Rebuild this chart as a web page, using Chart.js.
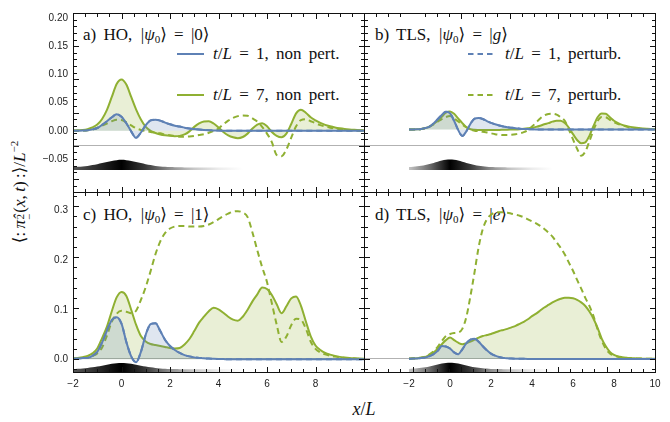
<!DOCTYPE html>
<html><head><meta charset="utf-8">
<script src="https://cdn.jsdelivr.net/npm/chart.js@4.4.0/dist/chart.umd.min.js"></script>
<style>
html,body{margin:0;padding:0;background:#fff;}
#wrap{position:relative;width:670px;height:422px;overflow:hidden;background:#fff;}
canvas{position:absolute;z-index:2;}
.t{position:absolute;z-index:1;font-family:"Liberation Serif","DejaVu Serif","Times New Roman",serif;font-size:17px;line-height:20px;color:#111;white-space:nowrap;word-spacing:3px;}
.t sub{font-size:11px;line-height:0;vertical-align:-3px;}
.t sup{font-size:11px;line-height:0;vertical-align:7px;}
.ss{display:inline-flex;flex-direction:column;font-size:11px;line-height:9px;vertical-align:1px;margin-right:1px;}
svg.smp{position:absolute;z-index:1;}
.fr{position:absolute;box-sizing:border-box;border:1px solid #111;z-index:3;pointer-events:none;}
.zl{position:absolute;height:1px;background:rgba(0,0,0,0.3);z-index:1;}
.tk{position:absolute;z-index:3;pointer-events:none;}
.tx {background:repeating-linear-gradient(to right,#111 0,#111 1px,transparent 1px,transparent 12.125px);}
.txM{background:repeating-linear-gradient(to right,#111 0,#111 1px,transparent 1px,transparent 48.5px);}
.tyA {background:repeating-linear-gradient(to bottom,#111 0,#111 1px,transparent 1px,transparent 6.642px);}
.tyAM{background:repeating-linear-gradient(to bottom,#111 0,#111 1px,transparent 1px,transparent 33.21px);}
.tyC {background:repeating-linear-gradient(to bottom,#111 0,#111 1px,transparent 1px,transparent 10.198px);}
.tyCM{background:repeating-linear-gradient(to bottom,#111 0,#111 1px,transparent 1px,transparent 50.99px);}
</style></head><body>
<div id="wrap">
  <div class="zl" style="left:73px;top:145px;width:292px"></div>
  <div class="zl" style="left:364px;top:145px;width:292px"></div>
  <div class="zl" style="left:73px;top:358px;width:292px"></div>
  <div class="zl" style="left:364px;top:358px;width:292px"></div>

  <div class="t" style="left:83px;top:25px">a) HO,&ensp;|<i>ψ</i><sub>0</sub>⟩ = |0⟩</div>
  <div class="t" style="left:375px;top:25px">b) TLS,&ensp;|<i>ψ</i><sub>0</sub>⟩ = |<i>g</i>⟩</div>
  <div class="t" style="left:83px;top:205px">c) HO,&ensp;|<i>ψ</i><sub>0</sub>⟩ = |1⟩</div>
  <div class="t" style="left:375px;top:205px">d) TLS,&ensp;|<i>ψ</i><sub>0</sub>⟩ = |<i>e</i>⟩</div>

  <svg class="smp" style="left:177px;top:50px" width="27" height="8"><line x1="0" y1="4" x2="27" y2="4" stroke="#5E81B5" stroke-width="2"/></svg>
  <div class="t" style="left:213px;top:44px"><i>t</i>/<i>L</i> = 1, non pert.</div>
  <svg class="smp" style="left:177px;top:91px" width="27" height="8"><line x1="0" y1="4" x2="27" y2="4" stroke="#8FB032" stroke-width="2"/></svg>
  <div class="t" style="left:213px;top:85px"><i>t</i>/<i>L</i> = 7, non pert.</div>

  <svg class="smp" style="left:468px;top:50px" width="27" height="8"><line x1="0" y1="4" x2="27" y2="4" stroke="#5E81B5" stroke-width="2" stroke-dasharray="5.5,4"/></svg>
  <div class="t" style="left:505px;top:44px"><i>t</i>/<i>L</i> = 1, perturb.</div>
  <svg class="smp" style="left:468px;top:91px" width="27" height="8"><line x1="0" y1="4" x2="27" y2="4" stroke="#8FB032" stroke-width="2" stroke-dasharray="5.5,4"/></svg>
  <div class="t" style="left:505px;top:85px"><i>t</i>/<i>L</i> = 7, perturb.</div>

  <div class="t" style="left:-100px;top:181px;width:240px;height:22px;line-height:22px;text-align:center;font-size:17px;word-spacing:0;transform:rotate(-90deg);">⟨:&thinsp;<i>π̂</i><span class="ss"><span>2</span><span>−</span></span>(<i>x</i>,&thinsp;<i>t</i>)&thinsp;:⟩/<i>L</i><sup>−2</sup></div>
  <div class="t" style="left:334px;top:399px;width:60px;text-align:center;font-size:18px;word-spacing:0;"><i>x</i>/<i>L</i></div>

  <canvas id="ca" width="360" height="187" style="left:16px;top:7px"></canvas>
  <canvas id="cb" width="315" height="187" style="left:352px;top:7px"></canvas>
  <canvas id="cc" width="360" height="210" style="left:16px;top:186px"></canvas>
  <canvas id="cd" width="315" height="210" style="left:352px;top:186px"></canvas>

  <!-- panel frames -->
  <div class="fr" style="left:73px;top:13px;width:292px;height:180px"></div>
  <div class="fr" style="left:364px;top:13px;width:292px;height:180px"></div>
  <div class="fr" style="left:73px;top:192px;width:292px;height:181px"></div>
  <div class="fr" style="left:364px;top:192px;width:292px;height:181px"></div>

  <!-- inward frame ticks, panel a -->
  <div class="tk tx"   style="left:73px;top:189px;width:292px;height:3px"></div>
  <div class="tk txM"  style="left:73px;top:187px;width:292px;height:5px"></div>
  <div class="tk tx"   style="left:73px;top:14px;width:292px;height:3px"></div>
  <div class="tk txM"  style="left:73px;top:14px;width:292px;height:5px"></div>
  <div class="tk tyA"  style="left:74px;top:13px;width:3px;height:180px"></div>
  <div class="tk tyAM" style="left:74px;top:13px;width:5px;height:180px"></div>
  <div class="tk tyA"  style="left:361px;top:13px;width:3px;height:180px"></div>
  <div class="tk tyAM" style="left:359px;top:13px;width:5px;height:180px"></div>
  <!-- panel b -->
  <div class="tk tx"   style="left:364px;top:189px;width:292px;height:3px"></div>
  <div class="tk txM"  style="left:364px;top:187px;width:292px;height:5px"></div>
  <div class="tk tx"   style="left:364px;top:14px;width:292px;height:3px"></div>
  <div class="tk txM"  style="left:364px;top:14px;width:292px;height:5px"></div>
  <div class="tk tyA"  style="left:365px;top:13px;width:3px;height:180px"></div>
  <div class="tk tyAM" style="left:365px;top:13px;width:5px;height:180px"></div>
  <div class="tk tyA"  style="left:652px;top:13px;width:3px;height:180px"></div>
  <div class="tk tyAM" style="left:650px;top:13px;width:5px;height:180px"></div>
  <!-- panel c -->
  <div class="tk tx"   style="left:73px;top:369px;width:292px;height:3px"></div>
  <div class="tk txM"  style="left:73px;top:367px;width:292px;height:5px"></div>
  <div class="tk tx"   style="left:73px;top:193px;width:292px;height:3px"></div>
  <div class="tk txM"  style="left:73px;top:193px;width:292px;height:5px"></div>
  <div class="tk tyC"  style="left:74px;top:195.8px;width:3px;height:176px"></div>
  <div class="tk tyCM" style="left:74px;top:206px;width:5px;height:166px"></div>
  <div class="tk tyC"  style="left:361px;top:195.8px;width:3px;height:176px"></div>
  <div class="tk tyCM" style="left:359px;top:206px;width:5px;height:166px"></div>
  <!-- panel d -->
  <div class="tk tx"   style="left:364px;top:369px;width:292px;height:3px"></div>
  <div class="tk txM"  style="left:364px;top:367px;width:292px;height:5px"></div>
  <div class="tk tx"   style="left:364px;top:193px;width:292px;height:3px"></div>
  <div class="tk txM"  style="left:364px;top:193px;width:292px;height:5px"></div>
  <div class="tk tyC"  style="left:365px;top:195.8px;width:3px;height:176px"></div>
  <div class="tk tyCM" style="left:365px;top:206px;width:5px;height:166px"></div>
  <div class="tk tyC"  style="left:652px;top:195.8px;width:3px;height:176px"></div>
  <div class="tk tyCM" style="left:650px;top:206px;width:5px;height:166px"></div>
</div>
<script>
// ---------- data ----------
const xPositions = [
  -2,-1.8,-1.6,-1.4,-1.2,-1,-0.8,-0.6,-0.4,-0.2,
  0,0.2,0.4,0.6,0.8,1,1.2,1.4,1.6,1.8,
  2,2.2,2.4,2.6,2.8,3,3.2,3.4,3.6,3.8,
  4,4.2,4.4,4.6,4.8,5,5.2,5.4,5.6,5.8,
  6,6.2,6.4,6.6,6.8,7,7.2,7.4,7.6,7.8,
  8,8.2,8.4,8.6,8.8,9,9.2,9.4,9.6,9.8,
  10];

// a) HO, |0>
const aNonPertT1 = [
  0,0.0001,0.0004,0.001,0.0025,0.005,0.0105,0.017,0.024,0.0295,
  0.025,0.0135,-0.001,-0.0125,-0.003,0.010,0.0185,0.0198,0.018,0.0145,
  0.0115,0.009,0.0075,0.0055,0.004,0.003,0.0022,0.0016,0.0011,0.0007,
  0.0004,0.0002,0.0001,0,0,0,0,0,0,0,
  0,0,0,0,0,0,0,0,0,0,
  0,0,0,0,0,0,0,0,0,0,
  0];
const aNonPertT7 = [
  0.0005,0.001,0.0015,0.003,0.006,0.011,0.021,0.037,0.06,0.083,
  0.091,0.082,0.06,0.038,0.02,0.007,0.0,-0.004,-0.0065,-0.008,
  -0.009,-0.0095,-0.009,-0.0065,-0.001,0.007,0.013,0.0165,0.017,0.013,
  0.006,-0.002,-0.008,-0.0115,-0.013,-0.011,-0.005,0.004,0.011,0.0135,
  0.008,-0.002,-0.009,-0.0115,-0.005,0.012,0.031,0.0375,0.032,0.024,
  0.0185,0.014,0.0105,0.008,0.006,0.0045,0.0033,0.0024,0.0017,0.0011,
  0.0007];
const aPertT7 = [
  0,0,0.0003,0.001,0.0025,0.005,0.009,0.013,0.017,0.0195,
  0.019,0.015,0.0095,0.0045,0.0015,-0.0005,-0.002,-0.003,-0.0045,-0.0065,
  -0.008,-0.0095,-0.0105,-0.0105,-0.01,-0.009,-0.0075,-0.006,-0.0035,0.0,
  0.004,0.0115,0.018,0.023,0.026,0.027,0.0265,0.022,0.0165,0.007,
  -0.005,-0.02,-0.043,-0.045,-0.033,-0.012,0.008,0.019,0.0205,0.017,
  0.0135,0.01,0.0075,0.0055,0.004,0.0028,0.002,0.0014,0.001,0.0006,
  0.0004];

// b) TLS, |g>
const bNonPertT1 = [
  0,0.0001,0.0004,0.001,0.0025,0.005,0.0105,0.0175,0.025,0.0305,
  0.028,0.015,-0.001,-0.011,-0.003,0.010,0.0185,0.0198,0.018,0.0145,
  0.0115,0.009,0.007,0.0053,0.004,0.003,0.0021,0.0015,0.001,0.0007,
  0.0004,0.0002,0.0001,0,0,0,0,0,0,0,
  0,0,0,0,0,0,0,0,0,0,
  0,0,0,0,0,0,0,0,0,0,
  0];
const bNonPertT7 = [
  0,0.0002,0.0005,0.001,0.0025,0.005,0.0095,0.015,0.022,0.029,
  0.031,0.027,0.019,0.011,0.004,0.0005,-0.0005,-0.0008,-0.001,-0.001,
  -0.001,-0.001,-0.0008,-0.0005,-0.0002,0,0.0002,0.0006,0.0012,0.002,
  0.003,0.0045,0.0065,0.009,0.011,0.0135,0.015,0.015,0.011,0.003,
  -0.008,-0.018,-0.0235,-0.022,-0.011,0.006,0.021,0.0275,0.027,0.021,
  0.015,0.011,0.008,0.006,0.0045,0.0033,0.0024,0.0017,0.0012,0.0008,
  0.0005];
const bPertT7 = [
  0,0,0.0003,0.001,0.0025,0.005,0.009,0.0135,0.018,0.0215,
  0.023,0.019,0.014,0.0085,0.004,0.0,-0.002,-0.003,-0.004,-0.005,
  -0.0065,-0.008,-0.009,-0.0095,-0.0095,-0.009,-0.008,-0.0065,-0.0045,-0.001,
  0.005,0.012,0.019,0.024,0.0265,0.027,0.0255,0.021,0.015,0.0,
  -0.017,-0.033,-0.045,-0.038,-0.02,-0.001,0.0145,0.0215,0.021,0.0165,
  0.0125,0.0095,0.007,0.005,0.0035,0.0025,0.0018,0.0012,0.0008,0.0005,
  0.0003];

// c) HO, |1>
const cNonPertT1 = [
  0.001,0.0015,0.0025,0.003,0.007,0.015,0.034,0.058,0.079,0.085,
  0.072,0.035,0.006,-0.006,0.015,0.05,0.071,0.073,0.057,0.039,
  0.027,0.019,0.013,0.0085,0.006,0.004,0.003,0.0022,0.0015,0.001,
  0.0007,0.0005,0.0003,0.0002,0.0001,0,0,0,0,0,
  0,0,0,0,0,0,0,0,0,0,
  0,0,0,0,0,0,0,0,0,0,
  0];
const cNonPertT7 = [
  0.002,0.003,0.0045,0.007,0.012,0.022,0.043,0.066,0.097,0.125,
  0.136,0.128,0.1,0.07,0.047,0.036,0.031,0.029,0.027,0.025,
  0.023,0.022,0.023,0.03,0.041,0.057,0.074,0.086,0.097,0.104,
  0.101,0.094,0.086,0.08,0.078,0.086,0.1,0.117,0.131,0.145,
  0.142,0.13,0.111,0.093,0.107,0.123,0.127,0.108,0.077,0.047,
  0.028,0.019,0.013,0.0095,0.007,0.005,0.0037,0.0027,0.002,0.0015,
  0.001];
const cPertT7 = [
  0.001,0.0015,0.0025,0.004,0.007,0.012,0.024,0.048,0.076,0.092,
  0.098,0.096,0.093,0.098,0.12,0.146,0.178,0.212,0.238,0.255,
  0.264,0.268,0.269,0.269,0.268,0.268,0.268,0.269,0.272,0.277,
  0.283,0.289,0.294,0.298,0.299,0.296,0.287,0.256,0.22,0.186,
  0.156,0.113,0.07,0.035,0.046,0.069,0.082,0.08,0.062,0.036,
  0.021,0.014,0.01,0.0075,0.0055,0.004,0.003,0.0022,0.0016,0.0012,
  0.0008];

// d) TLS, |e>
const dNonPertT1 = [
  0.0005,0.0008,0.0012,0.002,0.003,0.0055,0.0095,0.016,0.0255,0.0245,
  0.0205,0.013,0.0095,0.019,0.031,0.038,0.0395,0.034,0.025,0.017,
  0.0105,0.0065,0.0038,0.0022,0.0014,0.0009,0.0006,0.0004,0.0003,0.0002,
  0.0001,0,0,0,0,0,0,0,0,0,
  0,0,0,0,0,0,0,0,0,0,
  0,0,0,0,0,0,0,0,0,0,
  0];
const dNonPertT7 = [
  0.0005,0.001,0.0015,0.0025,0.004,0.008,0.0125,0.02,0.029,0.037,
  0.042,0.037,0.032,0.029,0.031,0.034,0.038,0.042,0.045,0.047,
  0.049,0.052,0.055,0.057,0.059,0.062,0.065,0.069,0.073,0.078,
  0.084,0.089,0.095,0.101,0.106,0.111,0.115,0.118,0.12,0.12,
  0.119,0.116,0.111,0.104,0.093,0.079,0.061,0.04,0.025,0.014,
  0.008,0.005,0.0035,0.0025,0.0018,0.0013,0.001,0.0007,0.0005,0.0004,
  0.0003];
const dPertT7 = [
  0.001,0.0015,0.002,0.003,0.005,0.009,0.015,0.024,0.035,0.045,
  0.049,0.051,0.052,0.059,0.083,0.124,0.171,0.22,0.255,0.274,
  0.283,0.287,0.288,0.288,0.287,0.285,0.283,0.281,0.278,0.274,
  0.27,0.266,0.261,0.255,0.248,0.24,0.229,0.218,0.205,0.189,
  0.173,0.155,0.138,0.12,0.104,0.084,0.058,0.036,0.02,0.011,
  0.0065,0.0045,0.003,0.0022,0.0016,0.0012,0.0009,0.0007,0.0005,0.0004,
  0.0003];

// detector profile strip drawn under each panel
const stripTop = [
  -0.0643,-0.0638,-0.0631,-0.0622,-0.0608,-0.0592,-0.0573,-0.0553,-0.0534,-0.0520,
  -0.0515,-0.0520,-0.0534,-0.0553,-0.0573,-0.0592,-0.0608,-0.0622,-0.0631,-0.0638,
  -0.0643,-0.0646,-0.0648,-0.0649,-0.065,-0.065,-0.065,-0.065,-0.065,-0.065,
  -0.065,-0.065,-0.065,-0.065,-0.065,-0.065,-0.065,-0.065,-0.065,-0.065,
  -0.065,-0.065,-0.065,-0.065,-0.065,-0.065,-0.065,-0.065,-0.065,-0.065,
  -0.065,-0.065,-0.065,-0.065,-0.065,-0.065,-0.065,-0.065,-0.065,-0.065,
  -0.065];
const stripBottom = [
  -0.0194,-0.0188,-0.0182,-0.0173,-0.0160,-0.0145,-0.0127,-0.0108,-0.0090,-0.0077,
  -0.0072,-0.0077,-0.0090,-0.0108,-0.0127,-0.0145,-0.0160,-0.0173,-0.0182,-0.0188,
  -0.0194,-0.0196,-0.0198,-0.0199,-0.02,-0.02,-0.02,-0.02,-0.02,-0.02,
  -0.02,-0.02,-0.02,-0.02,-0.02,-0.02,-0.02,-0.02,-0.02,-0.02,
  -0.02,-0.02,-0.02,-0.02,-0.02,-0.02,-0.02,-0.02,-0.02,-0.02,
  -0.02,-0.02,-0.02,-0.02,-0.02,-0.02,-0.02,-0.02,-0.02,-0.02,
  -0.02];
const shadeStops = [-2,-1,0,1,2,3,4,5];
const shadeLeft  = ['#585858','#2c2c2c','#000000','#3a3a3a','#8e8e8e','#c8c8c8','#ececec','#ffffff'];
const shadeRight = ['#c4c4c4','#6c6c6c','#000000','#3a3a3a','#8e8e8e','#c8c8c8','#ececec','#ffffff'];

// tick labels
const yTicksTop = [-0.05, 0, 0.05, 0.10, 0.15, 0.20];
const yTicksBottom = [0, 0.1, 0.2, 0.3];
const xTicksC = [-2, 0, 2, 4, 6, 8];
const xTicksD = [-2, 0, 2, 4, 6, 8, 10];

// ---------- styling ----------
const BLUE = '#5E81B5', GREEN = '#8FB032';
const BLUE_FILL = 'rgba(94,129,181,0.2)', GREEN_FILL = 'rgba(143,176,50,0.2)';
const X_MIN = -2, X_MAX = 10;
const TICK_FONT = {family: '"Liberation Sans", Arial, sans-serif', size: 10};

function pts(arr) { return xPositions.map((x, i) => ({x: x, y: arr[i]})); }

function shadeGradient(chart, shade) {
  const area = chart.chartArea;
  if (!area) return 'rgba(0,0,0,0)';
  const xs = chart.scales.x;
  const x0 = xs.getPixelForValue(X_MIN), x1 = xs.getPixelForValue(X_MAX);
  const g = chart.ctx.createLinearGradient(x0, 0, x1, 0);
  shadeStops.forEach((v, i) => g.addColorStop((v - X_MIN) / (X_MAX - X_MIN), shade[i]));
  return g;
}

function buildPanel(id, p) {
  const line = {pointRadius: 0, borderWidth: 2, tension: 0.4, cubicInterpolationMode: 'monotone'};
  const datasets = [
    Object.assign({label: 'profile', data: pts(p.strip), fill: 'start', borderWidth: 0, order: 10,
      borderColor: 'rgba(0,0,0,0)', backgroundColor: (c) => shadeGradient(c.chart, p.shade)},
      {pointRadius: 0, tension: 0.4, cubicInterpolationMode: 'monotone'}),
    Object.assign({label: 't/L = 7, non pert.', data: pts(p.t7), borderColor: GREEN, backgroundColor: GREEN_FILL, fill: 'origin', order: 5}, line),
    Object.assign({label: 't/L = 1, perturb.', data: pts(p.p1), borderColor: BLUE, borderDash: [6, 4], fill: false, order: 4}, line),
    Object.assign({label: 't/L = 7, perturb.', data: pts(p.p7), borderColor: GREEN, borderDash: [6, 4], fill: false, order: 3}, line),
    Object.assign({label: 't/L = 1, non pert.', data: pts(p.t1), borderColor: BLUE, backgroundColor: BLUE_FILL, fill: 'origin', order: 2}, line)
  ];
  return new Chart(document.getElementById(id), {
    type: 'line',
    data: {datasets: datasets},
    options: {
      responsive: false, animation: false, devicePixelRatio: 1,
      layout: {padding: {left: 12, right: 12, top: 6, bottom: 2}},
      plugins: {legend: {display: false}, tooltip: {enabled: false}},
      scales: {
        x: {type: 'linear', min: X_MIN, max: X_MAX, display: !!p.xTicks,
          grid: {display: false, drawTicks: false}, border: {display: false},
          afterBuildTicks: (s) => { if (p.xTicks) s.ticks = p.xTicks.map(v => ({value: v})); },
          afterFit: (s) => { s.height = 22; },
          ticks: {padding: 6, font: TICK_FONT, color: '#222', autoSkip: false, maxRotation: 0,
            callback: (v) => String(v).replace('-', '\u2212')}},
        y: {type: 'linear', min: p.yMin, max: p.yMax, display: p.showY,
          grid: {display: false, drawTicks: false}, border: {display: false},
          afterBuildTicks: (s) => { s.ticks = p.yTicks.map(v => ({value: v})); },
          afterFit: (s) => { s.width = 45; },
          ticks: {padding: 5, font: TICK_FONT, color: '#222', autoSkip: false,
            callback: (v) => Number(v).toFixed(p.yDec).replace('-', '\u2212')}}
      }
    }
  });
}

buildPanel('ca', {t1: aNonPertT1, p1: aNonPertT1, t7: aNonPertT7, p7: aPertT7, strip: stripTop, shade: shadeLeft,
  yMin: -0.0695, yMax: 0.2, yTicks: yTicksTop, yDec: 2, showY: true, xTicks: null});
buildPanel('cb', {t1: bNonPertT1, p1: bNonPertT1, t7: bNonPertT7, p7: bPertT7, strip: stripTop, shade: shadeRight,
  yMin: -0.0695, yMax: 0.2, yTicks: yTicksTop, yDec: 2, showY: false, xTicks: null});
buildPanel('cc', {t1: cNonPertT1, p1: cNonPertT1, t7: cNonPertT7, p7: cPertT7, strip: stripBottom, shade: shadeLeft,
  yMin: -0.0255, yMax: 0.3275, yTicks: yTicksBottom, yDec: 1, showY: true, xTicks: xTicksC});
buildPanel('cd', {t1: dNonPertT1, p1: dNonPertT1, t7: dNonPertT7, p7: dPertT7, strip: stripBottom, shade: shadeRight,
  yMin: -0.0255, yMax: 0.3275, yTicks: yTicksBottom, yDec: 1, showY: false, xTicks: xTicksD});
</script>
</body></html>
